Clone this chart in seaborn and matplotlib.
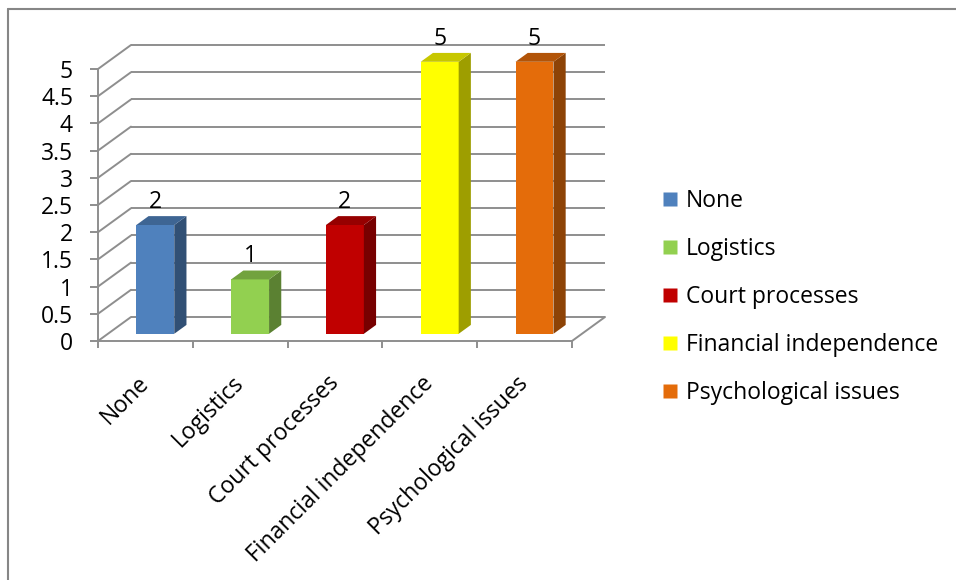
import matplotlib
matplotlib.use("Agg")
import matplotlib.pyplot as plt
from matplotlib.patches import Polygon
from matplotlib.lines import Line2D
import numpy as np
import pandas as pd
import seaborn as sns

categories = ["None", "Logistics", "Court processes", "Financial independence", "Psychological issues"]
values = [2, 1, 2, 5, 5]
colors = ["#4F81BD", "#92D050", "#C00000", "#FFFF00", "#E46C0A"]
y_ticks = [0, 0.5, 1, 1.5, 2, 2.5, 3, 3.5, 4, 4.5, 5]
y_tick_labels = ["0", "0.5", "1", "1.5", "2", "2.5", "3", "3.5", "4", "4.5", "5"]

sns.set_theme(style="white")
plt.rcParams["font.family"] = ["Open Sans", "DejaVu Sans"]
plt.rcParams["text.color"] = "black"
FS = 16.5

W, H = 956, 580
fig = plt.figure(figsize=(W / 100, H / 100), dpi=100)
fig.patch.set_facecolor("white")

# axes box: front y-axis at x=98px, floor at y=341px, back wall top at y=45px
left, right, bottom, top = 98, 605, 341, 45
ax = fig.add_axes([left / W, (H - bottom) / H, (right - left) / W, (bottom - top) / H])

# oblique depth of the back wall in data units
DX, DY = 0.348, 0.441

grid_c = "#8E8E8E"
lw = 1.4

df = pd.DataFrame({"category": categories, "value": values})
sns.barplot(data=df, x="category", y="value", hue="category", palette=colors,
            width=0.40, ax=ax, legend=False, saturation=1, linewidth=0, zorder=3)
ax.set_xlim(-0.5, 4.5 + DX)
ax.set_ylim(0, 5 + DY)

# back wall gridlines, side-wall diagonals, floor
for v in y_ticks:
    ax.plot([-0.5 + DX, 4.5 + DX], [v + DY, v + DY], color=grid_c, lw=lw, zorder=1,
            solid_capstyle="butt", clip_on=False)
    ax.plot([-0.5, -0.5 + DX], [v, v + DY], color=grid_c, lw=lw, zorder=1, clip_on=False)
ax.plot([-0.5, 4.5], [0, 0], color=grid_c, lw=lw, zorder=1, clip_on=False)
ax.plot([4.5, 4.5 + DX], [0, DY], color=grid_c, lw=lw, zorder=1, clip_on=False)
ax.plot([-0.5, -0.5], [0, 5], color=grid_c, lw=lw, zorder=1, clip_on=False)

# extrude each bar into a box standing in the middle of the floor
F, B = 0.30, 0.37


def shade(c, k):
    r, g, b = matplotlib.colors.to_rgb(c)
    return (r * k, g * k, b * k)


bars = sorted(ax.patches, key=lambda p: p.get_x())
for p, c, v in zip(bars, colors, values):
    p.set_x(p.get_x() + F * DX)
    p.set_y(F * DY)
    x0 = p.get_x()
    x1 = x0 + p.get_width()
    y0 = p.get_y()
    y1 = y0 + p.get_height()
    side = Polygon([(x1, y0), (x1 + B * DX, y0 + B * DY), (x1 + B * DX, y1 + B * DY), (x1, y1)],
                   closed=True, facecolor=shade(c, 0.62), edgecolor="none", zorder=3)
    topf = Polygon([(x0, y1), (x0 + B * DX, y1 + B * DY), (x1 + B * DX, y1 + B * DY), (x1, y1)],
                   closed=True, facecolor=shade(c, 0.78), edgecolor="none", zorder=3)
    ax.add_patch(side)
    ax.add_patch(topf)
    ax.annotate(str(v), xy=((x0 + x1) / 2, y1), xytext=(0, 8), textcoords="offset points",
                ha="center", va="bottom", fontsize=FS, color="black", zorder=4,
                annotation_clip=False)

for s in ax.spines.values():
    s.set_visible(False)

ax.set_yticks(y_ticks)
ax.set_yticklabels(y_tick_labels)
ax.tick_params(axis="y", left=True, length=6, width=lw, color=grid_c, pad=12,
               labelsize=FS, labelcolor="black")

ax.set_xticks(range(len(categories)))
ax.set_xticklabels(categories)
ax.set_xticks(np.arange(-0.5, 5, 1), minor=True)
ax.tick_params(axis="x", which="major", length=0, pad=28, labelsize=FS, labelcolor="black")
ax.tick_params(axis="x", which="minor", bottom=True, length=5, width=lw, color=grid_c)
plt.setp(ax.get_xticklabels(), rotation=45, ha="right", va="center", rotation_mode="anchor")
ax.set_xlabel("")
ax.set_ylabel("")

# legend on the right
handles = [Line2D([0], [0], marker="s", linestyle="none", markersize=10,
                  markerfacecolor=c, markeredgecolor="none") for c in colors]
fig.legend(handles, categories, loc="center left", bbox_to_anchor=(653 / W, 1 - 297 / H),
           frameon=False, fontsize=FS, labelspacing=1.05, handlelength=0.7,
           handletextpad=0.35, borderaxespad=0, labelcolor="black")

# chart area border
fig.add_artist(Line2D([7.5 / W, 7.5 / W], [0, 1 - 8.5 / H], color="#868686", lw=1.5,
                      transform=fig.transFigure))
fig.add_artist(Line2D([7.5 / W, 1], [1 - 8.5 / H, 1 - 8.5 / H], color="#868686", lw=1.5,
                      transform=fig.transFigure))

fig.savefig("out.png", dpi=100, facecolor="white")
